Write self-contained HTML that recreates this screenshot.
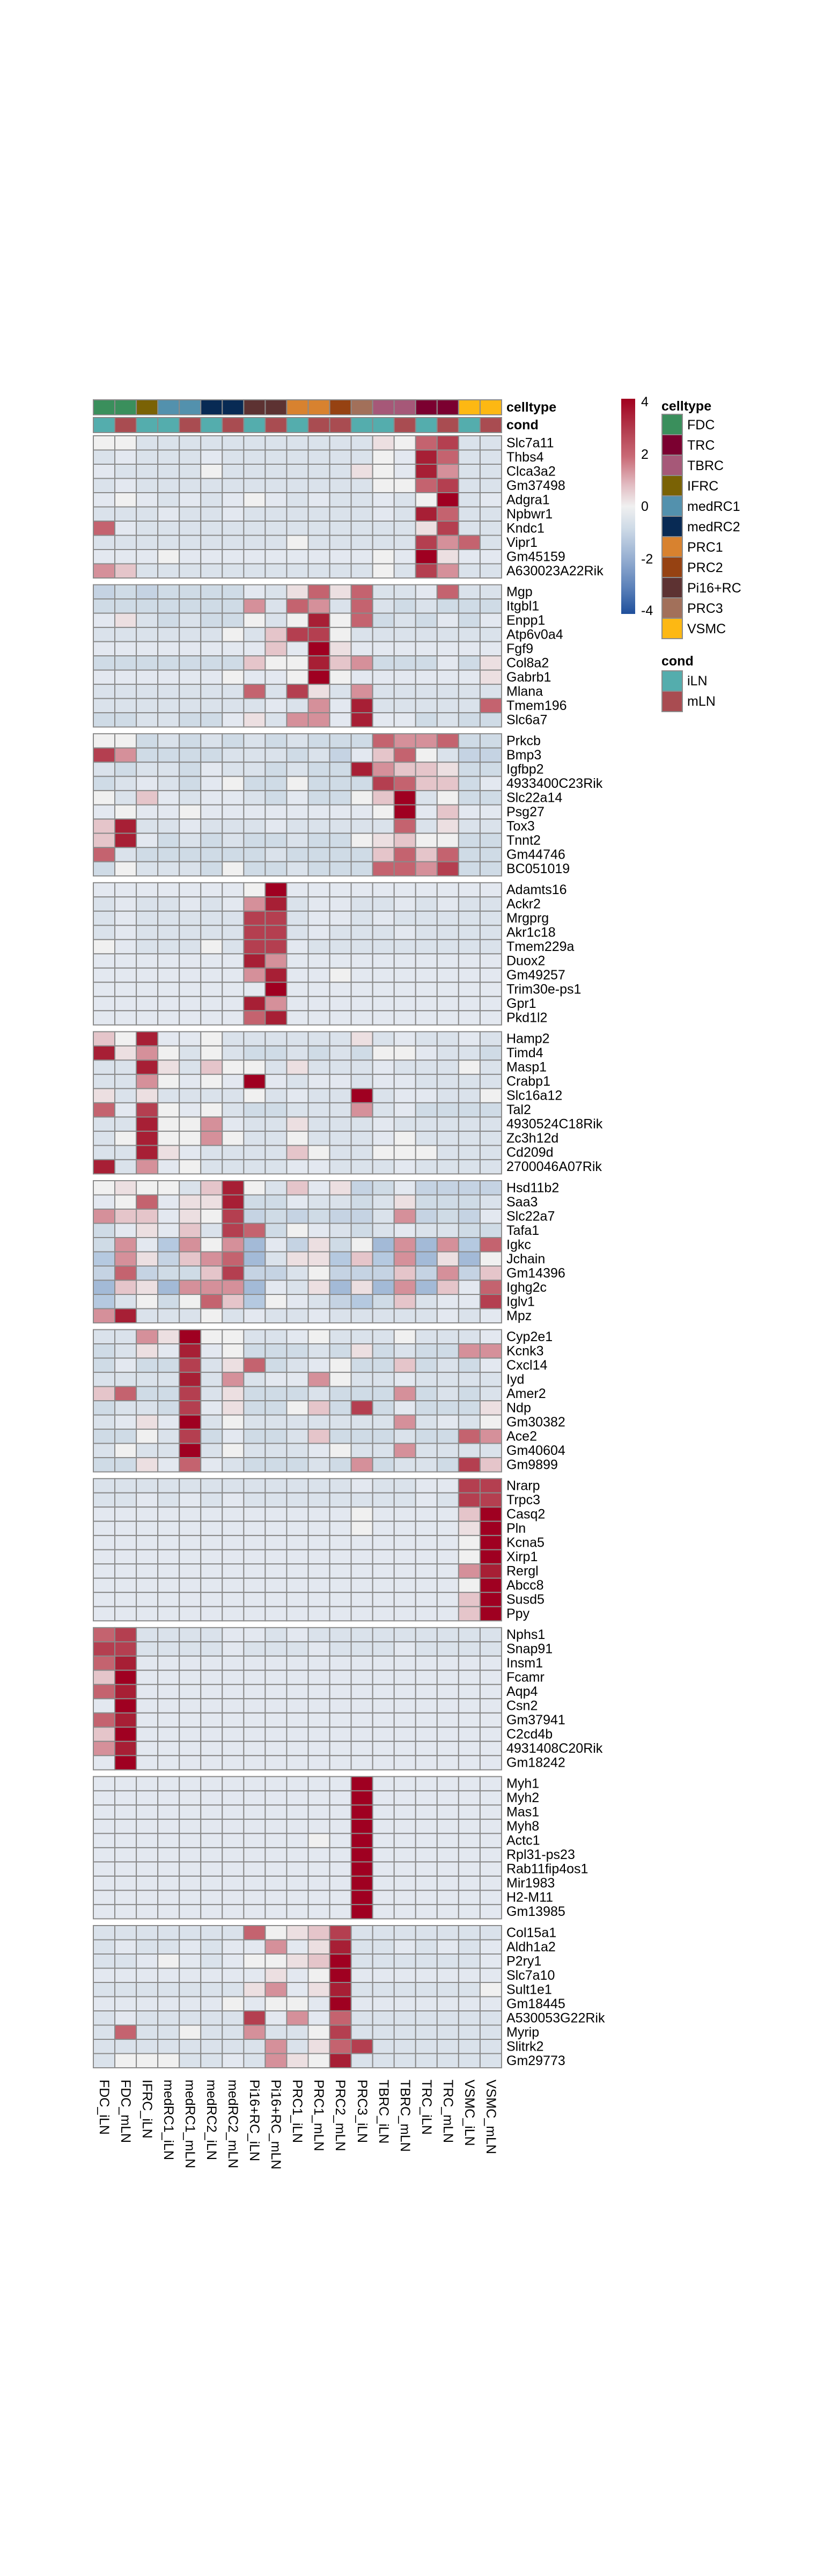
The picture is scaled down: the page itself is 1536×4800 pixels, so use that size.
<!DOCTYPE html>
<html><head><meta charset="utf-8">
<style>
html,body{margin:0;padding:0;background:#fff;}
svg{display:block;}
text{font-family:"Liberation Sans",Arial,sans-serif;font-size:25px;fill:#000;}
</style></head>
<body>
<svg id="s" width="1536" height="4800" viewBox="0 0 1536 4800" xmlns="http://www.w3.org/2000/svg">
<defs>
<linearGradient id="cb" x1="0" y1="0" x2="0" y2="1">
<stop offset="0" stop-color="#a2001f"/>
<stop offset="0.15" stop-color="#b43f50"/>
<stop offset="0.27" stop-color="#c96a76"/>
<stop offset="0.40" stop-color="#e2bcc2"/>
<stop offset="0.50" stop-color="#f0f0f0"/>
<stop offset="0.60" stop-color="#cfdbe7"/>
<stop offset="0.75" stop-color="#93acd0"/>
<stop offset="0.88" stop-color="#5a80b9"/>
<stop offset="1" stop-color="#1f4f9b"/>
</linearGradient>
</defs>
<g id="cells"></g>
<!-- annotation labels -->
<text x="944" y="759" dominant-baseline="central" font-weight="bold">celltype</text>
<text x="944" y="792" dominant-baseline="central" font-weight="bold">cond</text>
<!-- row labels -->
<g id="rl">
<text x="944" y="825.25" dominant-baseline="central">Slc7a11</text>
<text x="944" y="851.75" dominant-baseline="central">Thbs4</text>
<text x="944" y="878.25" dominant-baseline="central">Clca3a2</text>
<text x="944" y="904.75" dominant-baseline="central">Gm37498</text>
<text x="944" y="931.25" dominant-baseline="central">Adgra1</text>
<text x="944" y="957.75" dominant-baseline="central">Npbwr1</text>
<text x="944" y="984.25" dominant-baseline="central">Kndc1</text>
<text x="944" y="1010.75" dominant-baseline="central">Vipr1</text>
<text x="944" y="1037.25" dominant-baseline="central">Gm45159</text>
<text x="944" y="1063.75" dominant-baseline="central">A630023A22Rik</text>
</g>
<g id="rl2"></g>
<!-- column labels -->
<g id="cl">
<text transform="translate(194,3875) rotate(90)" dominant-baseline="central">FDC_iLN</text>
<text transform="translate(234,3875) rotate(90)" dominant-baseline="central">FDC_mLN</text>
<text transform="translate(274,3875) rotate(90)" dominant-baseline="central">IFRC_iLN</text>
<text transform="translate(314,3875) rotate(90)" dominant-baseline="central">medRC1_iLN</text>
<text transform="translate(354,3875) rotate(90)" dominant-baseline="central">medRC1_mLN</text>
<text transform="translate(394,3875) rotate(90)" dominant-baseline="central">medRC2_iLN</text>
<text transform="translate(434,3875) rotate(90)" dominant-baseline="central">medRC2_mLN</text>
<text transform="translate(474,3875) rotate(90)" dominant-baseline="central">Pi16+RC_iLN</text>
<text transform="translate(514,3875) rotate(90)" dominant-baseline="central">Pi16+RC_mLN</text>
<text transform="translate(554,3875) rotate(90)" dominant-baseline="central">PRC1_iLN</text>
<text transform="translate(594,3875) rotate(90)" dominant-baseline="central">PRC1_mLN</text>
<text transform="translate(634,3875) rotate(90)" dominant-baseline="central">PRC2_mLN</text>
<text transform="translate(675,3875) rotate(90)" dominant-baseline="central">PRC3_iLN</text>
<text transform="translate(715,3875) rotate(90)" dominant-baseline="central">TBRC_iLN</text>
<text transform="translate(755,3875) rotate(90)" dominant-baseline="central">TBRC_mLN</text>
<text transform="translate(795,3875) rotate(90)" dominant-baseline="central">TRC_iLN</text>
<text transform="translate(835,3875) rotate(90)" dominant-baseline="central">TRC_mLN</text>
<text transform="translate(875,3875) rotate(90)" dominant-baseline="central">VSMC_iLN</text>
<text transform="translate(915,3875) rotate(90)" dominant-baseline="central">VSMC_mLN</text>
</g>
<!-- colorbar -->
<rect x="1158" y="743" width="26" height="401" fill="url(#cb)"/>
<text x="1195" y="749" dominant-baseline="central">4</text>
<text x="1195" y="847" dominant-baseline="central">2</text>
<text x="1195" y="944" dominant-baseline="central">0</text>
<text x="1195" y="1042" dominant-baseline="central">-2</text>
<text x="1195" y="1138" dominant-baseline="central">-4</text>
<!-- legends -->
<text x="1233" y="757" dominant-baseline="central" font-weight="bold">celltype</text>
<g stroke="#8c8c8c" stroke-width="2">
<rect x="1234" y="772" width="38" height="38" fill="#3a8f5c"/>
<rect x="1234" y="810" width="38" height="38" fill="#7b0030"/>
<rect x="1234" y="848" width="38" height="38" fill="#a65878"/>
<rect x="1234" y="886" width="38" height="38" fill="#7a6205"/>
<rect x="1234" y="924" width="38" height="38" fill="#5391ad"/>
<rect x="1234" y="962" width="38" height="38" fill="#082a54"/>
<rect x="1234" y="1000" width="38" height="38" fill="#d8822f"/>
<rect x="1234" y="1038" width="38" height="38" fill="#964212"/>
<rect x="1234" y="1076" width="38" height="38" fill="#5d3232"/>
<rect x="1234" y="1114" width="38" height="38" fill="#a2705a"/>
<rect x="1234" y="1152" width="38" height="38" fill="#fdb813"/>
<rect x="1234" y="1250" width="38" height="38" fill="#54adad"/>
<rect x="1234" y="1288" width="38" height="38" fill="#a94c51"/>
</g>
<text x="1281" y="792" dominant-baseline="central">FDC</text>
<text x="1281" y="830" dominant-baseline="central">TRC</text>
<text x="1281" y="868" dominant-baseline="central">TBRC</text>
<text x="1281" y="906" dominant-baseline="central">IFRC</text>
<text x="1281" y="944" dominant-baseline="central">medRC1</text>
<text x="1281" y="982" dominant-baseline="central">medRC2</text>
<text x="1281" y="1020" dominant-baseline="central">PRC1</text>
<text x="1281" y="1058" dominant-baseline="central">PRC2</text>
<text x="1281" y="1096" dominant-baseline="central">Pi16+RC</text>
<text x="1281" y="1134" dominant-baseline="central">PRC3</text>
<text x="1281" y="1172" dominant-baseline="central">VSMC</text>
<text x="1233" y="1232" dominant-baseline="central" font-weight="bold">cond</text>
<text x="1281" y="1269" dominant-baseline="central">iLN</text>
<text x="1281" y="1307" dominant-baseline="central">mLN</text>

<g id="labels2">
<text x="944" y="1115" dominant-baseline="central">Mgp</text>
</g>
</svg>
<script>
(function(){
var NS="http://www.w3.org/2000/svg";
var C={b:"#dae2eb",c:"#cfdbe6",d:"#c5d3e3",e:"#e3e8f0",w:"#f0f0f0",f:"#b5c9e0",g:"#a3bad7",
"1":"#ecdfe1","2":"#e5c5ca","3":"#d5909a","4":"#c4636f","5":"#b43f50","6":"#a71f35","7":"#9f0021"};
var B=[
["wwbbbbbbbbbbb1w45bb","bebbbebbbbbbbwe64bb","ebbbbwbbbbbb1we63bb","bebbbbbbbbbbbww45bb","ewebebewebebbebw7be","bbbebbebbbbbbeb64bb","4ebbbbbbbbbbbbb15bb","bbbbbbbbbwbbbbb534b","eeeweeeeeeeeewe71ee","32bbbbbbbbbbbwb53bb"],
["dcdcccceb1414bbe4bb","ccccccc3b43b4bcbccc","e1bcbccwbw6w4cbcece","bbbbbbwb255wbbbbbbb","eeeeeeee2e71eeeeeee","ccccccc2ww623cccec1","eeeeeeweew7weeeeee1","bbbbbbb4b51b3bbbbbb","bbbbbbbbeb3e6bbbbb4","ccbbcce1b33e6eecbcc"],
["wwcbcbcbcbccc4334cc","53ccccbbbcbde24wbdd","bcbbcebbcbcc63221cc","cbebcewccwccc5422ce","wb2ebeebceccw27bwcc","eweeweeeeeeeew7e2ee","26bbebbbebbbbb4b1bb","26ecbcbccbccw12wwcc","4bccccccbcccc2424cc","cwbbbcwccbccc4435cc"],
["eeeeeeew7eeeeeeeeee","bebbebe36beebbebebb","bebbbbb55beebebbbbb","bebbbbb55bebbbebbbb","webbbwb55ebbbbbbbbb","eeeeeee63eeeeeeeeee","eeeeeee36eeweeeeeee","eeeeeeee7eeeeeeeeee","eeeeeee63eeeeeeeeee","eeeeeee46eeeeeeeeee"],
["2w6eewbbbbbb1bebbeb","613wbwbccbcbcwwebbc","bb61b2wwb1bbbebbbwb","bb3wewe7ebeebeebbbb","1b1bbbbwbebb7beebbw","4e5wewbccbbb3becccc","bb6ww3ebb1bbbebbbbb","bw6ww3wbbwbbbewbbbb","bb61ebbbb2wbbwwwbbb","6b3ewbbbbeebbbebbbb"],
["w1wwb26wb2e1dcedddd","ew4e116ccebbcb1cccb","322e1w5dcdcddb3dcde","ce1e2b54cwebcbebbcc","c3ef3w3ged1cwg3g3f4","f31d234gb11f2f3g1gw","d4dcc25ddbwddd2d3d2","g21g333geb1g1g3g2e4","fbwcw42fwebdfc2bee5","36bbbwbebbebbbbbebe"],
["bb317wwbbewbbbwbbbe","cb1e6ewcccbc1cbcc33","cecc5b14cbewcc2cbce","bbbb6b3bee3wbbebbbb","24cc5b1cccbccc3cbcb","cbbc5e1ccw2c5ceccc1","be1e7bwbbbbbbb3bebw","ccwb5ceccb2cccbcc43","bwbb7bwbbbewbb3bbbb","cc1e4ebcccbc3cbbc52"],
["bbbbbbbbbbbbebbee55","bbebebebbbbbbbbeb55","eeeeeeeeeeeeweeee27","eeeeeeeeeeeeweeee17","eeeeeeeeeeeeeeeeew7","eeeeeeeeeeeeeeeeew7","eeeeeeeeeeeeeeeee36","eeeeeeeeeeeeeeeeew7","eeeeeeeeeeeeeeeee27","eeeeeeeeeeeeeeeee27"],
["45bbbbeebebbbbbbbbb","55bbbbebbbebbbebbbb","46eeeeeeeeeeeeeeeee","27eeeeeeeeeeeeeeeee","46eeeeeeeeeeeeeeeee","e7eeeeeeeeeeeeeeeee","46eeeeeeeeeeeeeeeee","27eeeeeeeeeeeeeeeee","36eeeeeeeeeeeeeeeee","e7eeeeeeeeeeeeeeeee"],
["eeeeeeeeeeee7eeeeee","eeeeeeeeeeee7eeeeee","eeeeeeeeeeee7eeeeee","eeeeeeeeeeee7eeeeee","eeeeeeeeeewe7eeeeee","eeeeeeeeeeee7eeeeee","eeeeeeeeeeee7eeeeee","eeeeeeeeeeee7eeeeee","eeeeeeeeeeee7eeeeee","eeeeeeeeeeee7eeeeee"],
["bbbbbbb4w125bbbbbbb","bebbebee3e16bbebebe","bbewebeww127bbbbbbe","eeeeeeee1ew7eeeeeee","bbbbbbb13e16bbbbbbw","eeeeeewewwe7eeeeeee","bebbbbb5e3e4bbbbbbb","b4bbwbb3bbw5bbbbbbb","bbbbbbbb3b145bbbbbb","bwwwbbeb31w6bbbbbbb"]
];
var g=document.getElementById("cells");
var X0=174,CW=40.05,RH=26.5;
function rect(x,y,w,h,f){var r=document.createElementNS(NS,"rect");r.setAttribute("x",x);r.setAttribute("y",y);r.setAttribute("width",w);r.setAttribute("height",h);r.setAttribute("fill",f);r.setAttribute("stroke","#8a8a8a");r.setAttribute("stroke-width","2");g.appendChild(r);}
var ct=["#3a8f5c","#3a8f5c","#7a6205","#5391ad","#5391ad","#082a54","#082a54","#5d3232","#5d3232","#d8822f","#d8822f","#964212","#a2705a","#a65878","#a65878","#7b0030","#7b0030","#fdb813","#fdb813"];
var cd="imiimimimimmiimimim";
for(var j=0;j<19;j++){rect(X0+j*CW,745,CW,28,ct[j]);rect(X0+j*CW,778,CW,28,cd[j]=="i"?"#54adad":"#a94c51");}
for(var k=0;k<B.length;k++){var top=812+k*277.6;
 for(var i=0;i<10;i++){for(var j=0;j<19;j++){rect(X0+j*CW,top+i*RH,CW,RH,C[B[k][i][j]]);}}}
})();
</script>
<svg width="0" height="0" style="position:absolute"></svg>
<style>#labels2{display:none}</style>
<svg width="1536" height="4800" style="position:absolute;left:0;top:0" xmlns="http://www.w3.org/2000/svg">
<g font-family="Liberation Sans, Arial, sans-serif" font-size="25" dominant-baseline="central">
<text x="944" y="1102.85" dominant-baseline="central">Mgp</text>
<text x="944" y="1129.35" dominant-baseline="central">Itgbl1</text>
<text x="944" y="1155.85" dominant-baseline="central">Enpp1</text>
<text x="944" y="1182.35" dominant-baseline="central">Atp6v0a4</text>
<text x="944" y="1208.85" dominant-baseline="central">Fgf9</text>
<text x="944" y="1235.35" dominant-baseline="central">Col8a2</text>
<text x="944" y="1261.85" dominant-baseline="central">Gabrb1</text>
<text x="944" y="1288.35" dominant-baseline="central">Mlana</text>
<text x="944" y="1314.85" dominant-baseline="central">Tmem196</text>
<text x="944" y="1341.35" dominant-baseline="central">Slc6a7</text>
<text x="944" y="1380.45" dominant-baseline="central">Prkcb</text>
<text x="944" y="1406.95" dominant-baseline="central">Bmp3</text>
<text x="944" y="1433.45" dominant-baseline="central">Igfbp2</text>
<text x="944" y="1459.95" dominant-baseline="central">4933400C23Rik</text>
<text x="944" y="1486.45" dominant-baseline="central">Slc22a14</text>
<text x="944" y="1512.95" dominant-baseline="central">Psg27</text>
<text x="944" y="1539.45" dominant-baseline="central">Tox3</text>
<text x="944" y="1565.95" dominant-baseline="central">Tnnt2</text>
<text x="944" y="1592.45" dominant-baseline="central">Gm44746</text>
<text x="944" y="1618.95" dominant-baseline="central">BC051019</text>
<text x="944" y="1658.05" dominant-baseline="central">Adamts16</text>
<text x="944" y="1684.55" dominant-baseline="central">Ackr2</text>
<text x="944" y="1711.05" dominant-baseline="central">Mrgprg</text>
<text x="944" y="1737.55" dominant-baseline="central">Akr1c18</text>
<text x="944" y="1764.05" dominant-baseline="central">Tmem229a</text>
<text x="944" y="1790.55" dominant-baseline="central">Duox2</text>
<text x="944" y="1817.05" dominant-baseline="central">Gm49257</text>
<text x="944" y="1843.55" dominant-baseline="central">Trim30e-ps1</text>
<text x="944" y="1870.05" dominant-baseline="central">Gpr1</text>
<text x="944" y="1896.55" dominant-baseline="central">Pkd1l2</text>
<text x="944" y="1935.65" dominant-baseline="central">Hamp2</text>
<text x="944" y="1962.15" dominant-baseline="central">Timd4</text>
<text x="944" y="1988.65" dominant-baseline="central">Masp1</text>
<text x="944" y="2015.15" dominant-baseline="central">Crabp1</text>
<text x="944" y="2041.65" dominant-baseline="central">Slc16a12</text>
<text x="944" y="2068.15" dominant-baseline="central">Tal2</text>
<text x="944" y="2094.65" dominant-baseline="central">4930524C18Rik</text>
<text x="944" y="2121.15" dominant-baseline="central">Zc3h12d</text>
<text x="944" y="2147.65" dominant-baseline="central">Cd209d</text>
<text x="944" y="2174.15" dominant-baseline="central">2700046A07Rik</text>
<text x="944" y="2213.25" dominant-baseline="central">Hsd11b2</text>
<text x="944" y="2239.75" dominant-baseline="central">Saa3</text>
<text x="944" y="2266.25" dominant-baseline="central">Slc22a7</text>
<text x="944" y="2292.75" dominant-baseline="central">Tafa1</text>
<text x="944" y="2319.25" dominant-baseline="central">Igkc</text>
<text x="944" y="2345.75" dominant-baseline="central">Jchain</text>
<text x="944" y="2372.25" dominant-baseline="central">Gm14396</text>
<text x="944" y="2398.75" dominant-baseline="central">Ighg2c</text>
<text x="944" y="2425.25" dominant-baseline="central">Iglv1</text>
<text x="944" y="2451.75" dominant-baseline="central">Mpz</text>
<text x="944" y="2490.85" dominant-baseline="central">Cyp2e1</text>
<text x="944" y="2517.35" dominant-baseline="central">Kcnk3</text>
<text x="944" y="2543.85" dominant-baseline="central">Cxcl14</text>
<text x="944" y="2570.35" dominant-baseline="central">Iyd</text>
<text x="944" y="2596.85" dominant-baseline="central">Amer2</text>
<text x="944" y="2623.35" dominant-baseline="central">Ndp</text>
<text x="944" y="2649.85" dominant-baseline="central">Gm30382</text>
<text x="944" y="2676.35" dominant-baseline="central">Ace2</text>
<text x="944" y="2702.85" dominant-baseline="central">Gm40604</text>
<text x="944" y="2729.35" dominant-baseline="central">Gm9899</text>
<text x="944" y="2768.45" dominant-baseline="central">Nrarp</text>
<text x="944" y="2794.95" dominant-baseline="central">Trpc3</text>
<text x="944" y="2821.45" dominant-baseline="central">Casq2</text>
<text x="944" y="2847.95" dominant-baseline="central">Pln</text>
<text x="944" y="2874.45" dominant-baseline="central">Kcna5</text>
<text x="944" y="2900.95" dominant-baseline="central">Xirp1</text>
<text x="944" y="2927.45" dominant-baseline="central">Rergl</text>
<text x="944" y="2953.95" dominant-baseline="central">Abcc8</text>
<text x="944" y="2980.45" dominant-baseline="central">Susd5</text>
<text x="944" y="3006.95" dominant-baseline="central">Ppy</text>
<text x="944" y="3046.05" dominant-baseline="central">Nphs1</text>
<text x="944" y="3072.55" dominant-baseline="central">Snap91</text>
<text x="944" y="3099.05" dominant-baseline="central">Insm1</text>
<text x="944" y="3125.55" dominant-baseline="central">Fcamr</text>
<text x="944" y="3152.05" dominant-baseline="central">Aqp4</text>
<text x="944" y="3178.55" dominant-baseline="central">Csn2</text>
<text x="944" y="3205.05" dominant-baseline="central">Gm37941</text>
<text x="944" y="3231.55" dominant-baseline="central">C2cd4b</text>
<text x="944" y="3258.05" dominant-baseline="central">4931408C20Rik</text>
<text x="944" y="3284.55" dominant-baseline="central">Gm18242</text>
<text x="944" y="3323.65" dominant-baseline="central">Myh1</text>
<text x="944" y="3350.15" dominant-baseline="central">Myh2</text>
<text x="944" y="3376.65" dominant-baseline="central">Mas1</text>
<text x="944" y="3403.15" dominant-baseline="central">Myh8</text>
<text x="944" y="3429.65" dominant-baseline="central">Actc1</text>
<text x="944" y="3456.15" dominant-baseline="central">Rpl31-ps23</text>
<text x="944" y="3482.65" dominant-baseline="central">Rab11fip4os1</text>
<text x="944" y="3509.15" dominant-baseline="central">Mir1983</text>
<text x="944" y="3535.65" dominant-baseline="central">H2-M11</text>
<text x="944" y="3562.15" dominant-baseline="central">Gm13985</text>
<text x="944" y="3601.25" dominant-baseline="central">Col15a1</text>
<text x="944" y="3627.75" dominant-baseline="central">Aldh1a2</text>
<text x="944" y="3654.25" dominant-baseline="central">P2ry1</text>
<text x="944" y="3680.75" dominant-baseline="central">Slc7a10</text>
<text x="944" y="3707.25" dominant-baseline="central">Sult1e1</text>
<text x="944" y="3733.75" dominant-baseline="central">Gm18445</text>
<text x="944" y="3760.25" dominant-baseline="central">A530053G22Rik</text>
<text x="944" y="3786.75" dominant-baseline="central">Myrip</text>
<text x="944" y="3813.25" dominant-baseline="central">Slitrk2</text>
<text x="944" y="3839.75" dominant-baseline="central">Gm29773</text>
</g>
</svg>
</body></html>
